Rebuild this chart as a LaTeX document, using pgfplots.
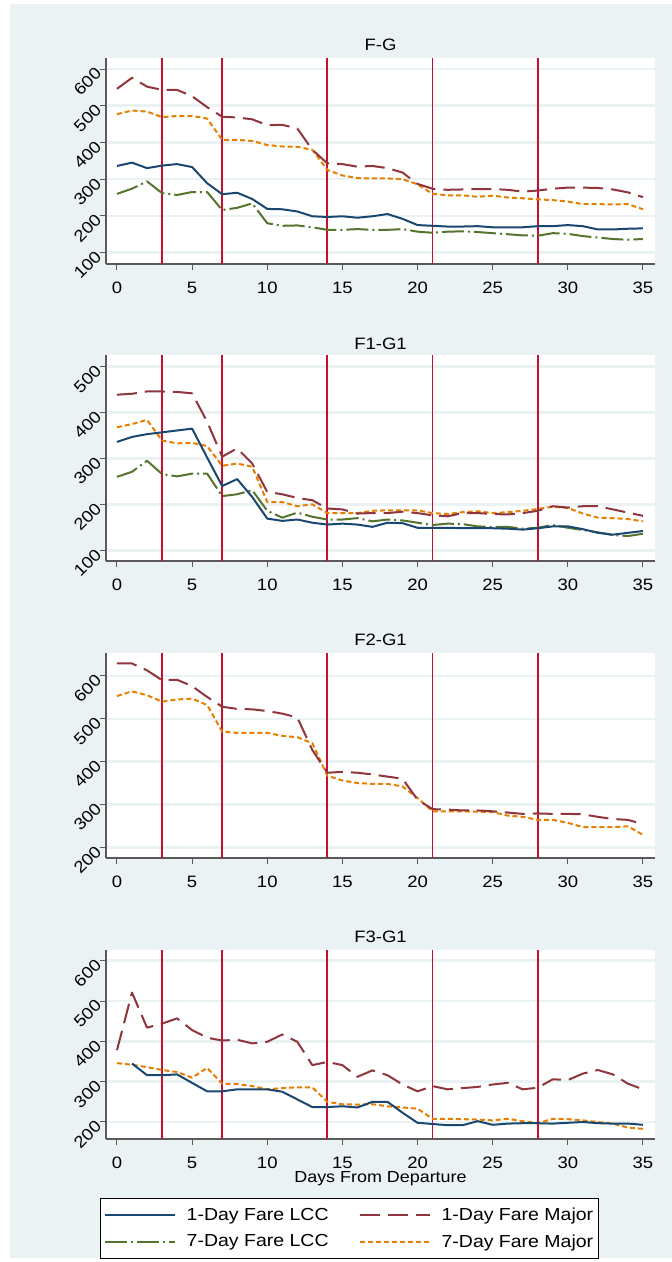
\documentclass[border=0pt]{standalone}
\usepackage{fontspec}
\setmainfont{Liberation Sans}[FakeStretch=1.12]
\usepackage{pgfplots}
\usepackage{pgfplotstable}
\pgfplotsset{compat=1.18}
\definecolor{bgc}{RGB}{234,242,243}
\definecolor{gridc}{RGB}{234,242,243}
\definecolor{navyc}{RGB}{26,71,111}
\definecolor{maroonc}{RGB}{144,53,59}
\definecolor{forestc}{RGB}{85,117,47}
\definecolor{orangec}{RGB}{232,126,0}
\definecolor{xlc}{RGB}{200,16,46}
\definecolor{axc}{RGB}{90,90,90}

\pgfplotstableread{
x l1 m1 l7 m7
0 336 546 260 477
1 345 576 274 487
2 330 552 294 484
3 337 543 262 469
4 341 543 257 472
5 333 526 265 472
6 289 496 265 465
7 259 470 216 407
8 263 468 222 407
9 246 463 234 404
10 219 447 180 393
11 218 448 173 389
12 212 438 174 388
13 199 380 169 380
14 197 343 162 325
15 199 341 162 310
16 195 334 164 303
17 199 336 162 302
18 205 330 162 302
19 192 318 164 300
20 175 287 157 286
21 173 274 154 260
22 171 271 157 256
23 171 272 158 256
24 172 273 156 252
25 169 273 153 255
26 169 271 150 250
27 169 266 147 248
28 172 269 146 245
29 172 274 153 243
30 175 277 151 239
31 172 277 145 232
32 163 276 141 232
33 163 272 137 231
34 165 264 135 232
35 166 251 137 218
}\tabA

\pgfplotstableread{
x l1 m1 l7 m7
0 336 439 260 368
1 347 441 271 375
2 353 446 295 384
3 357 446 266 339
4 361 445 261 333
5 365 442 267 334
6 302 380 267 327
7 240 304 218 284
8 255 322 222 289
9 216 289 231 282
10 169 227 186 205
11 164 222 171 205
12 167 214 182 196
13 160 209 173 200
14 156 191 167 181
15 158 189 167 181
16 156 180 170 181
17 151 181 163 186
18 160 181 167 187
19 159 184 165 187
20 149 181 160 187
21 149 176 155 181
22 149 174 158 179
23 148 181 157 183
24 148 181 152 185
25 148 179 151 181
26 147 178 151 183
27 145 181 147 186
28 148 186 149 190
29 152 196 155 195
30 152 193 149 192
31 146 196 144 180
32 138 196 139 171
33 134 189 133 170
34 138 182 131 168
35 142 175 136 163
}\tabB

\pgfplotstableread{
x m1 m7
0 629 553
1 629 564
2 613 555
3 590 540
4 591 545
5 576 547
6 551 532
7 528 470
8 523 467
9 522 467
10 518 467
11 512 460
12 503 457
13 427 443
14 374 367
15 376 356
16 374 350
17 370 348
18 365 348
19 360 342
20 311 315
21 289 284
22 288 284
23 286 284
24 286 283
25 284 282
26 281 274
27 278 271
28 279 264
29 278 264
30 278 257
31 277 247
32 271 247
33 266 247
34 264 249
35 254 229
}\tabC

\pgfplotstableread{
x l1 m1 m7
0 nan 378 346
1 345 521 342
2 316 434 336
3 316 444 329
4 318 457 324
5 297 428 310
6 276 409 334
7 276 402 295
8 281 404 294
9 281 395 289
10 281 399 281
11 275 417 284
12 256 399 286
13 237 341 286
14 237 349 250
15 239 341 244
16 236 312 243
17 250 328 244
18 250 316 239
19 223 293 236
20 198 276 233
21 195 289 208
22 192 281 208
23 192 284 207
24 202 287 206
25 193 293 204
26 196 297 208
27 197 281 202
28 197 285 197
29 196 306 208
30 198 304 207
31 200 320 204
32 197 329 200
33 196 318 196
34 196 295 186
35 193 281 183
}\tabD

\pgfplotsset{
  fare/.style={
    scale only axis, width=549pt,
    xmin=-0.73, xmax=35.8,
    axis x line*=bottom, axis y line*=left,
    axis line style={draw=axc, line width=1.2pt, -},
    xtick={0,5,...,35},
    tick align=outside, major tick length=6pt,
    tick style={draw=axc, line width=1pt},
    ymajorgrids, grid style={draw=gridc, line width=2.5pt},
    /pgf/number format/assume math mode=true,
    tick label style={font=\fontsize{16.5}{19}\selectfont},
    xticklabel style={yshift=-8.5pt},
    yticklabel style={rotate=45, anchor=east, inner sep=2pt},
    axis background/.style={fill=white},
    legend image code/.code={\draw[##1] (0pt,0pt) -- (70pt,0pt);},
  },
  sl1/.style={navyc, line width=2pt, line join=round},
  sm1/.style={maroonc, line width=2pt, line join=round, dash pattern=on 20pt off 8pt},
  sl7/.style={forestc, line width=2pt, line join=round, dash pattern=on 22pt off 4pt on 2pt off 4pt},
  sm7/.style={orangec, line width=2pt, line join=round, dash pattern=on 5pt off 3pt},
  vl/.style={xlc, line width=1.8pt, forget plot},
}
\newcommand{\vlines}[2]{%
  \addplot[vl] coordinates {(3,#1) (3,#2)};
  \addplot[vl] coordinates {(7,#1) (7,#2)};
  \addplot[vl] coordinates {(14,#1) (14,#2)};
  \addplot[vl] coordinates {(21,#1) (21,#2)};
  \addplot[vl] coordinates {(28,#1) (28,#2)};
}

\begin{document}
\begin{tikzpicture}
\useasboundingbox (0,0) rectangle (672pt,1262pt);
\fill[bgc] (10pt,4pt) rectangle (672pt,1258pt);

\begin{axis}[fare, at={(106pt,998pt)}, anchor=south west, height=206pt,
  ymin=69, ymax=630, ytick={100,200,...,600}]
\vlines{69}{630}
\addplot[sl7] table[x=x,y=l7]{\tabA};
\addplot[sm7] table[x=x,y=m7]{\tabA};
\addplot[sl1] table[x=x,y=l1]{\tabA};
\addplot[sm1] table[x=x,y=m1]{\tabA};
\end{axis}

\begin{axis}[fare, at={(106pt,701pt)}, anchor=south west, height=206pt,
  ymin=76.6, ymax=525.5, ytick={100,200,...,500}]
\vlines{76.6}{525.5}
\addplot[sl7] table[x=x,y=l7]{\tabB};
\addplot[sm7] table[x=x,y=m7]{\tabB};
\addplot[sl1] table[x=x,y=l1]{\tabB};
\addplot[sm1] table[x=x,y=m1]{\tabB};
\end{axis}

\begin{axis}[fare, at={(106pt,404pt)}, anchor=south west, height=205pt,
  ymin=175, ymax=653.5, ytick={200,300,...,600}]
\vlines{175}{653.5}
\addplot[sm7] table[x=x,y=m7]{\tabC};
\addplot[sm1] table[x=x,y=m1]{\tabC};
\end{axis}

\begin{axis}[fare, at={(106pt,123pt)}, anchor=south west, height=189pt,
  ymin=157.8, ymax=626.6, ytick={200,300,...,600},
  legend columns=2,
  legend cell align=left,
  legend style={at={(0.4435,-0.312)}, anchor=north, draw=black, line width=0.8pt, fill=white,
    font=\fontsize{17.4}{20}\selectfont, inner xsep=3pt, inner ysep=8pt, row sep=8pt,
    /tikz/every odd column/.append style={column sep=9pt},
    /tikz/every even column/.append style={column sep=28pt}},
  ]
\vlines{157.8}{626.6}
\addplot[sm7, forget plot] table[x=x,y=m7]{\tabD};
\addplot[sl1, forget plot] table[x=x,y=l1]{\tabD};
\addplot[sm1, forget plot] table[x=x,y=m1]{\tabD};
\addlegendimage{sl1}
\addlegendimage{sm1}
\addlegendimage{sl7}
\addlegendimage{sm7}
\legend{1-Day Fare LCC, 1-Day Fare Major, 7-Day Fare LCC, 7-Day Fare Major}
\end{axis}

\node[font=\fontsize{16.5}{19}\selectfont, anchor=base] at (380.5pt,1211.3pt) {F-G};
\node[font=\fontsize{16.5}{19}\selectfont, anchor=base] at (380.5pt,912.7pt) {F1-G1};
\node[font=\fontsize{16.5}{19}\selectfont, anchor=base] at (380.5pt,616.3pt) {F2-G1};
\node[font=\fontsize{16.5}{19}\selectfont, anchor=base] at (380.5pt,319pt) {F3-G1};
\node[font=\fontsize{16}{19}\selectfont, anchor=base] at (380.5pt,79.7pt) {Days From Departure};
\end{tikzpicture}
\end{document}
